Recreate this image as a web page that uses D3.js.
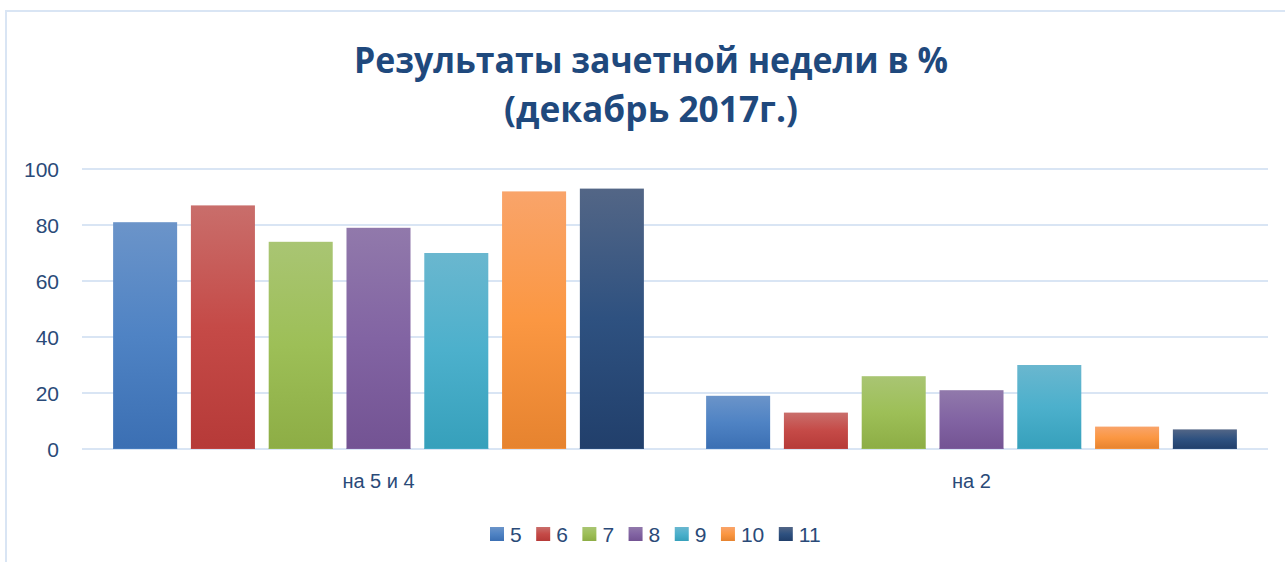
<!DOCTYPE html>
<html>
<head>
<meta charset="utf-8">
<script src="https://cdn.jsdelivr.net/npm/d3@7"></script>
<style>
  html, body { margin: 0; padding: 0; background: #fff; }
  svg { display: block; }
</style>
</head>
<body>
<svg id="chart" width="1285" height="562"></svg>
<script>
const categories = ["на 5 и 4", "на 2"];
const seriesNames = ["5", "6", "7", "8", "9", "10", "11"];
const seriesValues = [
  [81, 19],
  [87, 13],
  [74, 26],
  [79, 21],
  [70, 30],
  [92, 8],
  [93, 7]
];
const yTicks = [0, 20, 40, 60, 80, 100];
const titleLines = ["Результаты зачетной недели в %", "(декабрь 2017г.)"];
// [top, middle, bottom] gradient colours per series
const seriesColors = [
  ["#6b94c9", "#4f83c4", "#3b6fb3"],
  ["#c96e6b", "#c54a47", "#b63a38"],
  ["#a9c573", "#9dbf57", "#8dad45"],
  ["#9179ab", "#8264a3", "#735393"],
  ["#6ab7cf", "#4cb0cc", "#36a0bb"],
  ["#f9a46a", "#fb9742", "#e6832f"],
  ["#536686", "#2e5180", "#213f6b"]
];

const svg = d3.select("#chart");
const W = 1285, H = 562;
const textColor = "#2a4a78";

// frame
svg.append("rect").attr("x", 6).attr("y", 11).attr("width", W + 10).attr("height", H + 10)
  .attr("fill", "#fff").attr("stroke", "#d9e5f4").attr("stroke-width", 2);

// gradients
const defs = svg.append("defs");
seriesColors.forEach((c, i) => {
  const g = defs.append("linearGradient").attr("id", "grad" + i)
    .attr("x1", 0).attr("y1", 0).attr("x2", 0).attr("y2", 1);
  g.append("stop").attr("offset", "0%").attr("stop-color", c[0]);
  g.append("stop").attr("offset", "50%").attr("stop-color", c[1]);
  g.append("stop").attr("offset", "100%").attr("stop-color", c[2]);
});

// scales
const x0 = d3.scaleBand().domain(categories).range([82, 1268]).paddingInner(0).paddingOuter(0);
const x1 = d3.scaleBand().domain(seriesNames).range([0, x0.bandwidth()]).paddingInner(0.177).paddingOuter(0.4);
const y = d3.scaleLinear().domain([0, 100]).range([449, 169]);

// gridlines
svg.append("g").selectAll("line").data(yTicks).join("line")
  .attr("x1", 82).attr("x2", 1268)
  .attr("y1", d => y(d)).attr("y2", d => y(d))
  .attr("stroke", "#d9e5f4").attr("stroke-width", 2);

// y axis labels
const yAxis = d3.axisLeft(y).tickValues(yTicks).tickSize(0).tickPadding(0);
const yG = svg.append("g").attr("transform", "translate(59,0)").call(yAxis);
yG.select(".domain").remove();
yG.selectAll("text").attr("font-family", "Liberation Sans, Arial, sans-serif")
  .attr("font-size", 21).attr("fill", textColor).attr("dy", "0.36em");

// bars
const groups = svg.append("g").selectAll("g").data(categories).join("g")
  .attr("transform", d => `translate(${x0(d)},0)`);
groups.selectAll("rect").data((c, ci) => seriesNames.map((s, si) => ({ s, si, v: seriesValues[si][ci] })))
  .join("rect")
  .attr("x", d => x1(d.s))
  .attr("width", x1.bandwidth())
  .attr("y", d => y(d.v))
  .attr("height", d => y(0) - y(d.v))
  .attr("fill", d => `url(#grad${d.si})`);
groups.selectAll("line.base").data((c, ci) => seriesNames.map((s, si) => ({ s, si })))
  .join("line").attr("class", "base")
  .attr("x1", d => x1(d.s)).attr("x2", d => x1(d.s) + x1.bandwidth())
  .attr("y1", y(0) - 0.5).attr("y2", y(0) - 0.5)
  .attr("stroke", d => seriesColors[d.si][1]).attr("stroke-opacity", 0.6).attr("stroke-width", 1);

// x axis labels
const xAxis = d3.axisBottom(x0).tickSize(0).tickPadding(0);
const xG = svg.append("g").attr("transform", "translate(0,488)").call(xAxis);
xG.select(".domain").remove();
xG.selectAll("text").attr("font-family", "Liberation Sans, Arial, sans-serif")
  .attr("font-size", 20).attr("fill", textColor).attr("dy", 0);

// title
const title = svg.append("g");
const tl = [{ t: titleLines[0], y: 73, w: 594 }, { t: titleLines[1], y: 122, w: 294 }];
tl.forEach(d => {
  title.append("text").attr("x", 651).attr("y", d.y).attr("text-anchor", "middle")
    .attr("font-family", "Open Sans, Liberation Sans, sans-serif").attr("font-weight", "bold")
    .attr("font-size", 36).attr("fill", "#1f497d")
    .attr("textLength", d.w).attr("lengthAdjust", "spacingAndGlyphs")
    .text(d.t);
});

// legend
const legend = svg.append("g");
let lx = 490;
seriesNames.forEach((s, i) => {
  const item = legend.append("g").attr("transform", `translate(${lx},0)`);
  item.append("rect").attr("x", 0).attr("y", 527).attr("width", 14).attr("height", 14)
    .attr("fill", `url(#grad${i})`);
  const t = item.append("text").attr("x", 20).attr("y", 542)
    .attr("font-family", "Liberation Sans, Arial, sans-serif").attr("font-size", 21)
    .attr("fill", textColor).text(s);
  const tw = t.node().getComputedTextLength();
  lx += 20 + tw + 14.5;
});
</script>
</body>
</html>
